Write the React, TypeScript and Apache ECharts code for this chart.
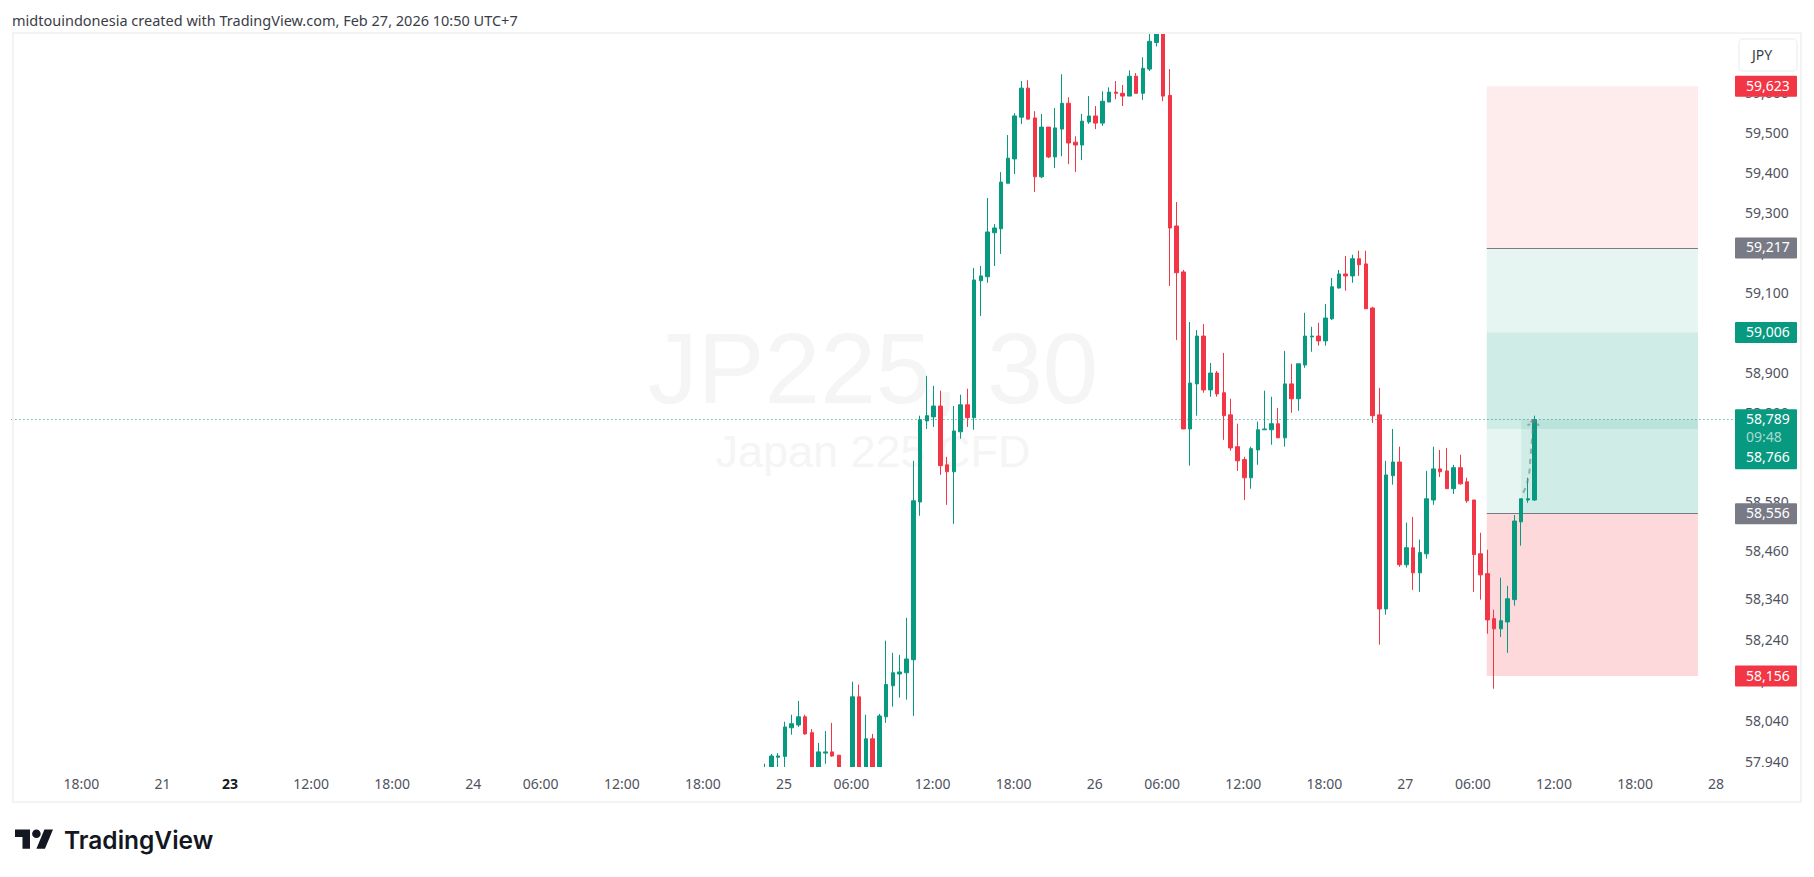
import { useEffect, useRef } from 'react';
import * as echarts from 'echarts';

const UP = '#089981';
const DOWN = '#F23645';
const GREY = '#787B86';
const FONT = '"Noto Sans", sans-serif';

// 30 minute slots on the time axis, first candle sits at slot 111
const slotCount = 255;
const firstCandleSlot = 111;
const tickSlots = [10, 22, 32, 44, 56, 68, 78, 90, 102, 114, 124, 136, 148, 160, 170, 182, 194, 206, 216, 228, 240, 252];
const tickLabels = ['18:00', '21', '23', '12:00', '18:00', '24', '06:00', '12:00', '18:00', '25', '06:00', '12:00', '18:00', '26', '06:00', '12:00', '18:00', '27', '06:00', '12:00', '18:00', '28'];

const priceTicks = [59600, 59500, 59400, 59300, 59200, 59100, 59000, 58900, 58800, 58580, 58460, 58340, 58240, 58140, 58040, 57940];

const opens = [
  57905, 57905, 57957, 57959, 58029, 58036, 58056, 58017, 57920, 57967,
  57970, 57962, 57905, 57915, 58105, 57925, 58002, 57925, 58056, 58132,
  58161, 58164, 58196, 58585, 58786, 58796, 58823, 58677, 58660, 58759,
  58826, 58794, 59135, 59145, 59255, 59265, 59379, 59440, 59545, 59618,
  59543, 59395, 59520, 59445, 59515, 59580, 59482, 59475, 59533, 59548,
  59530, 59583, 59608, 59605, 59598, 59648, 59605, 59666, 59733, 59775,
  59600, 59272, 59157, 58766, 58878, 58997, 58863, 58905, 58856, 58801,
  58722, 58690, 58645, 58714, 58764, 58764, 58779, 58744, 58878, 58841,
  58925, 58995, 58997, 58985, 59040, 59117, 59152, 59147, 59190, 59177,
  59067, 58801, 58321, 58650, 58684, 58430, 58472, 58410, 58457, 58590,
  58667, 58662, 58618, 58670, 58635, 58590, 58457, 58408, 58297, 58272,
  58289, 58344, 58536, 58590, 58590,
];
const closes = [
  57925, 57960, 57960, 58031, 58039, 58056, 58014, 57920, 57970, 57970,
  57960, 57915, 57915, 58105, 57925, 58002, 57925, 58058, 58135, 58164,
  58166, 58198, 58588, 58789, 58799, 58823, 58675, 58660, 58761, 58826,
  58794, 59137, 59147, 59257, 59267, 59382, 59442, 59548, 59618, 59540,
  59395, 59520, 59445, 59518, 59580, 59480, 59475, 59535, 59548, 59530,
  59585, 59608, 59605, 59598, 59648, 59605, 59668, 59736, 59770, 59598,
  59267, 59155, 58766, 58880, 58997, 58863, 58905, 58853, 58799, 58719,
  58687, 58645, 58717, 58764, 58766, 58779, 58744, 58878, 58841, 58928,
  58997, 58997, 58985, 59042, 59120, 59152, 59147, 59190, 59175, 59065,
  58799, 58321, 58652, 58684, 58430, 58472, 58410, 58460, 58593, 58667,
  58660, 58618, 58670, 58630, 58588, 58455, 58405, 58294, 58272, 58292,
  58346, 58538, 58593, 58593, 58789,
];
const lows = [
  57890, 57895, 57915, 57920, 58012, 58031, 58012, 57905, 57910, 57941,
  57958, 57905, 57890, 57900, 57915, 57910, 57915, 57915, 58041, 58081,
  58103, 58098, 58058, 58551, 58766, 58771, 58652, 58578, 58531, 58742,
  58771, 58764, 59047, 59130, 59172, 59202, 59379, 59402, 59528, 59540,
  59357, 59392, 59442, 59417, 59447, 59427, 59407, 59437, 59528, 59515,
  59523, 59583, 59590, 59573, 59598, 59605, 59588, 59661, 59723, 59585,
  59122, 58987, 58766, 58675, 58799, 58856, 58846, 58846, 58739, 58712,
  58662, 58590, 58618, 58677, 58764, 58727, 58744, 58722, 58806, 58811,
  58918, 58958, 58973, 58973, 59037, 59115, 59110, 59130, 59147, 59065,
  58781, 58233, 58307, 58628, 58425, 58423, 58368, 58363, 58445, 58578,
  58647, 58618, 58605, 58628, 58583, 58363, 58344, 58260, 58125, 58252,
  58213, 58329, 58477, 58583, 58588,
];
const highs = [
  57941, 57965, 57967, 58044, 58061, 58095, 58061, 58026, 57992, 58021,
  58041, 57962, 57925, 58142, 58135, 58061, 58014, 58063, 58243, 58213,
  58208, 58299, 58687, 58799, 58898, 58873, 58861, 58697, 58823, 58851,
  58866, 59167, 59172, 59342, 59277, 59407, 59500, 59555, 59636, 59638,
  59560, 59553, 59520, 59568, 59653, 59595, 59497, 59553, 59598, 59573,
  59610, 59620, 59636, 59626, 59663, 59656, 59696, 59765, 59790, 59790,
  59666, 59332, 59162, 59032, 59012, 59027, 58930, 58910, 58955, 58841,
  58779, 58697, 58722, 58784, 58861, 58846, 58818, 58960, 58928, 58928,
  59055, 59020, 59030, 59077, 59142, 59162, 59197, 59200, 59210, 59210,
  59070, 58868, 58687, 58766, 58722, 58534, 58548, 58492, 58662, 58722,
  58714, 58719, 58677, 58702, 58645, 58590, 58509, 58467, 58319, 58398,
  58378, 58553, 58593, 58645, 58799,
];

// position tool levels
const stopTop = 59623;
const entryTop = 59217;
const targetTop = 59006;
const lastPrice = 58789;
const prevClose = 58766;
const entryBottom = 58556;
const stopBottom = 58156;
const toolStart = 218.4;
const toolFill = 223.5;
const toolEnd = 249.66;

// dashed arrow of the projected move
const arrowPoints = [
  [223.8, 58608],
  [224.5, 58640],
  [224.9, 58700],
  [225.3, 58789],
];

const categories = Array.from({ length: slotCount }, (_, i) => {
  const at = tickSlots.indexOf(i);
  return at >= 0 ? tickLabels[at] : '';
});

const candleData = categories.map((_, i) => {
  const k = i - firstCandleSlot;
  if (k < 0 || k >= opens.length) return ['-', '-', '-', '-'];
  return [opens[k], closes[k], lows[k], highs[k]];
});

const fmt = (v: number) => v.toLocaleString('en-US');

echarts.graphic.registerShape(
  'tvLogo',
  echarts.graphic.extendPath(
    'M14 22H7V11H0V4h14v18zM28 22h-8l7.5-18h8L28 22zM24 8a4 4 0 1 1-8 0a4 4 0 1 1 8 0z',
    {},
  ),
);

const zone = (from: number, to: number, top: number, bottom: number, color: string) => [
  { coord: [from, top], itemStyle: { color } },
  { coord: [to, bottom] },
];

const App = () => {
  const chartRef = useRef<HTMLDivElement>(null);

  useEffect(() => {
    if (!chartRef.current) return;
    const chart = echarts.init(chartRef.current, null, { renderer: 'svg' });

    const option = {
      animation: false,
      backgroundColor: '#fff',
      textStyle: { fontFamily: FONT },
      grid: { left: 11.45, top: 33, width: 1722.55, height: 734 },
      xAxis: [
        {
          type: 'category',
          data: categories,
          z: 10,
          axisLine: { show: false },
          axisTick: { show: false },
          splitLine: { show: false },
          axisLabel: {
            interval: (_: number, v: string) => v !== '',
            hideOverlap: false,
            formatter: (v: string) => (v === '23' ? '{b|23}' : v),
            color: '#50535E',
            fontSize: 14,
            fontFamily: FONT,
            margin: 9,
            padding: [0, 2, 0, 0],
            rich: { b: { fontWeight: 'bold', color: '#131722', fontSize: 14, fontFamily: FONT } },
          },
        },
        { type: 'value', min: 0, max: slotCount, show: false },
      ],
      yAxis: {
        type: 'log',
        min: 57933,
        max: 59757,
        position: 'right',
        z: 0,
        axisLine: { show: false },
        axisTick: { show: false },
        splitLine: { show: false },
        axisLabel: {
          customValues: priceTicks,
          formatter: (v: number) => `{a|${fmt(v)}}`,
          showMinLabel: true,
          showMaxLabel: true,
          hideOverlap: false,
          margin: 11,
          rich: {
            a: { color: '#50535E', fontSize: 14, fontFamily: FONT, lineHeight: 16, padding: [0, 0, 5, 0] },
          },
        },
      },
      series: [
        {
          type: 'line',
          name: 'position',
          xAxisIndex: 1,
          data: arrowPoints,
          showSymbol: false,
          smooth: true,
          z: 3,
          lineStyle: { color: 'rgba(120,123,134,0.6)', width: 2, type: [5, 5] },
          markArea: {
            silent: true,
            z: 1,
            data: [
              zone(toolStart, toolEnd, stopTop, entryTop, 'rgba(242,54,69,0.1)'),
              zone(toolStart, toolEnd, entryTop, entryBottom, 'rgba(8,153,129,0.1)'),
              zone(toolStart, toolEnd, targetTop, prevClose, 'rgba(8,153,129,0.1)'),
              zone(toolFill, toolEnd, lastPrice, entryBottom, 'rgba(8,153,129,0.1)'),
              zone(toolStart, toolEnd, entryBottom, stopBottom, 'rgba(242,54,69,0.1)'),
              zone(toolStart, toolEnd, entryBottom, stopBottom, 'rgba(242,54,69,0.1)'),
            ],
          },
          markLine: {
            silent: true,
            symbol: 'none',
            z: 1,
            label: { show: false },
            data: [
              [
                { coord: [toolStart, entryTop], lineStyle: { color: GREY, width: 1, type: 'solid' } },
                { coord: [toolEnd, entryTop] },
              ],
              [
                { coord: [toolStart, entryBottom], lineStyle: { color: GREY, width: 1, type: 'solid' } },
                { coord: [toolEnd, entryBottom] },
              ],
              [
                { coord: [0, lastPrice], lineStyle: { color: UP, width: 1, type: [1, 3] } },
                { coord: [slotCount, lastPrice] },
              ],
            ],
          },
          markPoint: {
            silent: true,
            symbol: 'path://M0 6L5.5 0L11 6',
            symbolSize: [11, 6],
            symbolOffset: [0, 3],
            label: { show: false },
            itemStyle: { color: 'none', borderColor: 'rgba(120,123,134,0.6)', borderWidth: 2, borderType: [3, 2] },
            data: [{ coord: arrowPoints[arrowPoints.length - 1] }],
          },
        },
        {
          type: 'candlestick',
          data: candleData,
          barWidth: 4,
          z: 2,
          itemStyle: {
            color: UP,
            color0: DOWN,
            borderColor: UP,
            borderColor0: DOWN,
            borderWidth: 1,
          },
        },
      ],
    };

    chart.setOption(option);

    // price badges sit on the axis, y comes from the axis scale
    const py = (v: number) => chart.convertToPixel({ yAxisIndex: 0 }, v) as number;
    const badge = (cy: number, h: number, color: string) => ({
      type: 'rect',
      z: 60,
      shape: { x: 1735, y: cy - h / 2, width: 62, height: h, r: 1 },
      style: { fill: color },
    });
    const badgeText = (cy: number, text: string, fill = '#fff') => ({
      type: 'text',
      z: 61,
      x: 1746,
      y: cy,
      style: { text, fill, font: `14px ${FONT}`, verticalAlign: 'middle' },
    });
    const single = (v: number, color: string) => [badge(py(v), 21, color), badgeText(py(v) - 1, fmt(v))];
    const lastY = py(lastPrice);

    chart.setOption({
      graphic: [
        {
          type: 'text',
          z: -1,
          x: 873,
          y: 367.5,
          style: { text: 'JP225, 30', fill: '#F5F5F6', font: '100px "Liberation Sans"', align: 'center', verticalAlign: 'middle' },
        },
        {
          type: 'text',
          z: -1,
          x: 873,
          y: 451,
          style: { text: 'Japan 225 CFD', fill: '#F5F5F6', font: '45px "Liberation Sans"', align: 'center', verticalAlign: 'middle' },
        },
        // pane edges: candles that run off the window stop here
        { type: 'rect', z: 5, shape: { x: 0, y: 0, width: 1814, height: 33 }, style: { fill: '#fff' } },
        { type: 'rect', z: 5, shape: { x: 12, y: 767, width: 1787, height: 34 }, style: { fill: '#fff' } },
        { type: 'rect', z: 55, shape: { x: 13, y: 33, width: 1788, height: 769 }, style: { fill: 'none', stroke: '#F3F3F4', lineWidth: 2 } },
        {
          type: 'text',
          z: 60,
          x: 12,
          y: 20,
          style: {
            text: 'midtouindonesia created with TradingView.com, Feb 27, 2026 10:50 UTC+7',
            fill: '#3A3D46',
            font: `14.5px ${FONT}`,
            verticalAlign: 'middle',
          },
        },
        {
          type: 'rect',
          z: 60,
          shape: { x: 1739, y: 39, width: 58, height: 32, r: 4 },
          style: { fill: '#fff', stroke: '#F0F1F3', lineWidth: 1.5 },
        },
        {
          type: 'text',
          z: 61,
          x: 1762,
          y: 54,
          style: { text: 'JPY', fill: '#3A3D46', font: `14px ${FONT}`, align: 'center', verticalAlign: 'middle' },
        },
        ...single(stopTop, DOWN),
        ...single(entryTop, GREY),
        ...single(targetTop, UP),
        badge(lastY + 19.5, 60, UP),
        badgeText(lastY - 1, fmt(lastPrice)),
        badgeText(lastY + 17, '09:48', 'rgba(255,255,255,0.65)'),
        badgeText(lastY + 37, fmt(prevClose)),
        ...single(entryBottom, GREY),
        ...single(stopBottom, DOWN),
        {
          type: 'tvLogo',
          z: 60,
          x: 15,
          y: 825.2,
          scaleX: 1.07,
          scaleY: 1.07,
          style: { fill: '#131722' },
        },
        {
          type: 'text',
          z: 60,
          x: 64,
          y: 839.5,
          style: { text: 'TradingView', fill: '#131722', font: '600 24.5px Inter', verticalAlign: 'middle' },
        },
      ],
    });

    return () => {
      chart.dispose();
    };
  }, []);

  return (
    <div
      ref={chartRef}
      style={{ position: 'fixed', left: 0, top: 0, width: '1814px', height: '877px' }}
    />
  );
};

export default App;
